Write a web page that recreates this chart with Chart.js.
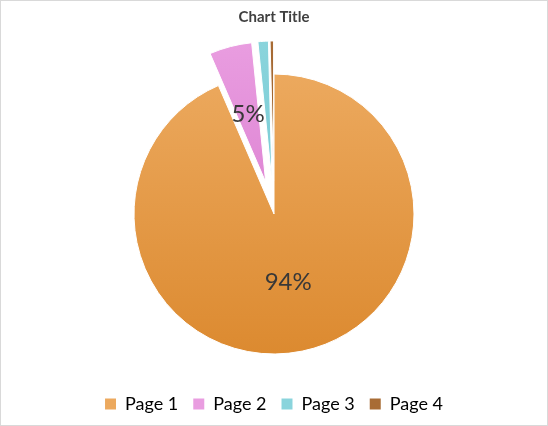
<!DOCTYPE html>
<html>
<head>
<meta charset="utf-8">
<script src="https://cdn.jsdelivr.net/npm/chart.js@4.4.1/dist/chart.umd.min.js"></script>
<style>
html, body { margin: 0; padding: 0; background: #fff; }
#wrap { width: 548px; height: 426px; box-sizing: border-box; border: 1px solid #d9d9d9; }
canvas { display: block; }
</style>
</head>
<body>
<div id="wrap"><canvas id="pieChart" width="546" height="424"></canvas></div>
<script>
const labels = ['Page 1', 'Page 2', 'Page 3', 'Page 4'];
const shares = [93.5, 4.9, 1.2, 0.4];

const topColors = ['#eca95e', '#e99de0', '#8ad4dc', '#a86c35'];
const bottomColors = ['#dc8a30', '#d673cb', '#6cc6cf', '#8c5120'];
const explode = [0, 33, 33, 33];
const pieRadius = 140;

// vertical gradient per slice, like the Excel fill
function sliceFill(context) {
    const i = context.dataIndex;
    const area = context.chart.chartArea;
    if (!area) return topColors[i];
    const cy = (area.top + area.bottom) / 2;
    const g = context.chart.ctx.createLinearGradient(0, cy - pieRadius, 0, cy + pieRadius);
    g.addColorStop(0, topColors[i]);
    g.addColorStop(1, bottomColors[i]);
    return g;
}

// draws the slices pulled out from the centre, then the % labels
const explodedSlices = {
    id: 'explodedSlices',
    beforeDatasetsDraw(chart) {
        const ctx = chart.ctx;
        const meta = chart.getDatasetMeta(0);
        meta.data.forEach((arc, i) => {
            const mid = (arc.startAngle + arc.endAngle) / 2;
            ctx.save();
            ctx.translate(Math.cos(mid) * explode[i], Math.sin(mid) * explode[i]);
            arc.draw(ctx);
            ctx.restore();
        });

        ctx.save();
        ctx.font = '24px Lato';
        ctx.fillStyle = '#383838';
        ctx.textAlign = 'center';
        ctx.textBaseline = 'middle';
        meta.data.forEach((arc, i) => {
            const v = shares[i];
            if (v < 2) return;
            const mid = (arc.startAngle + arc.endAngle) / 2;
            const d = explode[i] + arc.outerRadius / 2;
            ctx.fillText(Math.round(v) + '%', arc.x + Math.cos(mid) * d, arc.y + Math.sin(mid) * d);
        });
        ctx.restore();
        return false;
    }
};

new Chart(document.getElementById('pieChart').getContext('2d'), {
    type: 'pie',
    data: {
        labels: labels,
        datasets: [{
            data: shares,
            backgroundColor: sliceFill,
            borderColor: '#ffffff',
            borderWidth: 1
        }]
    },
    options: {
        responsive: false,
        animation: false,
        radius: pieRadius,
        layout: { padding: { top: 0, bottom: 2, left: 0, right: 0 } },
        plugins: {
            title: {
                display: true,
                text: 'Chart Title',
                color: '#404040',
                font: { family: 'Lato', size: 15, weight: 'bold' },
                padding: { top: 7, bottom: 22 }
            },
            legend: {
                position: 'bottom',
                labels: {
                    color: '#383838',
                    font: { family: 'Lato', size: 18 },
                    boxWidth: 11,
                    boxHeight: 11,
                    padding: 15,
                    generateLabels(chart) {
                        return labels.map((l, i) => ({
                            text: l,
                            fillStyle: topColors[i],
                            strokeStyle: topColors[i],
                            lineWidth: 0,
                            index: i
                        }));
                    }
                }
            },
            tooltip: { enabled: false }
        }
    },
    plugins: [explodedSlices]
});
</script>
</body>
</html>
